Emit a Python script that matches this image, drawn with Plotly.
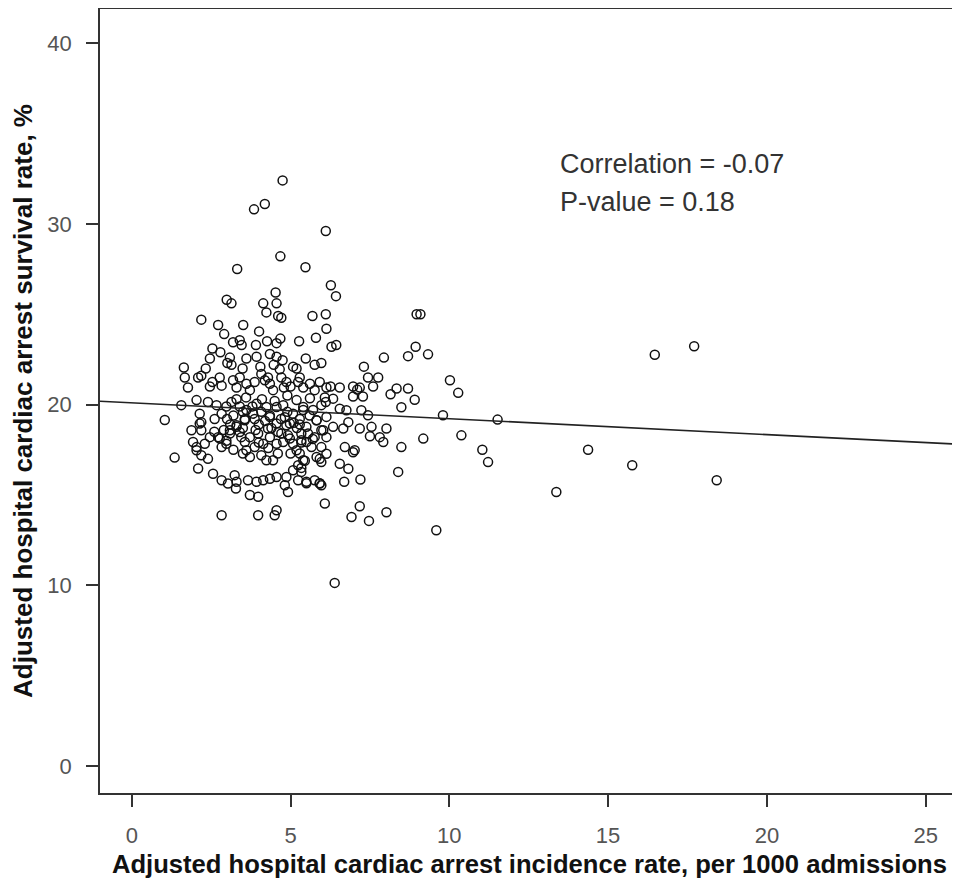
import plotly.graph_objects as go

# Hospital-level points (incidence per 1000 admissions, survival %)
incidence_rate = [
    4.75, 3.85, 4.19, 6.11, 4.68, 3.32, 5.47, 6.27, 4.53, 6.43, 2.99, 3.14, 4.14, 4.56, 4.24, 4.61, 4.71, 5.69, 6.11, 2.19,
    2.72, 3.51, 2.91, 4.01, 6.13, 4.68, 4.56, 5.27, 5.80, 4.26, 3.19, 3.40, 3.46, 3.91, 2.54, 2.46, 2.79, 3.09, 3.01, 3.14,
    3.61, 3.49, 3.93, 4.05, 4.35, 4.56, 4.75, 4.47, 4.66, 5.08, 5.19, 5.48, 5.76, 5.97, 1.64, 1.67, 1.77, 2.09, 2.19, 2.33,
    2.54, 2.46, 2.77, 2.83, 3.19, 3.30, 3.40, 3.61, 3.72, 3.87, 4.08, 4.19, 4.35, 4.45, 4.29, 4.71, 4.87, 4.79, 5.24, 5.40,
    5.29, 5.61, 5.76, 5.92, 6.13, 6.08, 1.04, 1.56, 2.04, 2.40, 2.67, 2.98, 3.14, 2.83, 2.61, 2.14, 2.19, 1.88, 3.40, 3.61,
    3.56, 3.30, 3.09, 3.93, 4.08, 3.87, 4.24, 4.35, 4.56, 4.29, 4.77, 4.82, 4.98, 5.19, 5.40, 5.29, 5.61, 5.71, 5.82, 5.50,
    5.97, 6.13, 5.97, 6.13, 1.93, 2.04, 2.30, 2.46, 2.72, 2.83, 2.98, 3.40, 3.56, 3.72, 3.98, 4.14, 4.35, 4.61, 4.77, 4.92,
    5.08, 5.34, 5.50, 5.76, 5.97, 2.19, 2.14, 2.04, 2.19, 2.40, 1.35, 2.09, 2.56, 2.83, 3.03, 3.30, 3.24, 3.28, 3.66, 3.93,
    4.14, 4.35, 4.56, 3.72, 3.98, 4.87, 5.08, 5.24, 5.34, 4.82, 4.92, 5.50, 5.24, 5.76, 5.92, 4.56, 4.50, 3.98, 2.83, 6.08,
    2.77, 2.98, 3.09, 3.30, 3.45, 3.61, 3.72, 3.87, 4.08, 4.24, 4.45, 4.56, 4.71, 4.87, 4.98, 5.19, 5.34, 5.40, 5.55, 5.66,
    5.82, 5.97, 6.13, 3.56, 3.82, 4.35, 4.56, 5.08, 5.40, 5.82, 6.03, 6.29, 6.44, 8.97, 9.09, 7.94, 8.70, 8.94, 9.33, 7.31,
    7.44, 7.76, 7.60, 6.26, 6.55, 6.97, 7.10, 7.18, 7.28, 6.97, 8.15, 8.34, 8.70, 8.91, 10.02, 10.28, 8.49, 6.11, 6.34, 6.55,
    6.76, 7.23, 7.44, 9.80, 11.52, 6.34, 6.66, 6.82, 7.18, 7.55, 8.02, 7.50, 7.81, 7.92, 8.49, 9.18, 10.38, 11.04, 11.22, 14.37,
    15.76, 13.37, 9.59, 6.39, 6.71, 6.97, 7.02, 6.55, 6.82, 6.69, 7.20, 8.39, 5.92, 5.50, 5.92, 5.97, 6.92, 7.18, 7.47, 8.02,
    5.29, 5.34, 5.29, 5.45, 5.34, 16.47, 17.71, 18.42,
    3.20, 3.50, 3.80, 4.00, 4.20, 4.40, 4.70, 4.90, 5.10, 3.00, 3.30, 3.60, 4.10, 4.50, 4.90, 5.00, 3.10, 3.50, 3.90, 4.30,
    4.60, 5.00, 2.60, 2.90, 3.20, 3.50, 4.00, 5.20, 5.60, 5.70,
]
survival_rate = [
    32.4, 30.8, 31.1, 29.6, 28.2, 27.5, 27.6, 26.6, 26.2, 26.0, 25.8, 25.6, 25.6, 25.6, 25.1, 24.9, 24.8, 24.9, 25.0, 24.7,
    24.4, 24.4, 23.9, 24.05, 24.2, 23.65, 23.4, 23.5, 23.7, 23.5, 23.45, 23.56, 23.3, 23.3, 23.1, 22.55, 22.9, 22.6, 22.3, 22.2,
    22.55, 22.0, 22.65, 22.1, 22.8, 22.65, 22.45, 22.2, 21.95, 22.1, 22.0, 22.55, 22.2, 22.3, 22.05, 21.5, 20.95, 21.5, 21.6, 22.0,
    21.25, 21.0, 21.5, 21.05, 21.35, 20.95, 21.5, 21.15, 20.8, 21.25, 21.7, 21.35, 21.15, 20.8, 21.5, 21.5, 21.25, 20.95, 21.25, 20.95,
    21.5, 21.15, 20.8, 21.25, 20.95, 20.4, 19.15, 19.97, 20.25, 20.15, 19.97, 19.9, 20.15, 19.5, 19.2, 19.5, 19.03, 18.58, 19.9, 19.7,
    19.2, 18.86, 18.58, 20.05, 19.6, 19.2, 19.87, 19.4, 18.95, 18.68, 19.97, 19.3, 18.95, 20.25, 19.87, 19.2, 20.35, 19.7, 19.14, 18.77,
    19.97, 19.32, 18.58, 18.2, 17.93, 17.65, 17.84, 18.2, 18.2, 17.65, 18.0, 18.48, 17.93, 18.2, 18.4, 17.84, 18.2, 18.48, 17.93, 18.3,
    17.84, 18.4, 17.93, 18.2, 17.65, 18.58, 18.95, 17.48, 17.2, 17.0, 17.07, 16.47, 16.18, 15.82, 15.64, 15.73, 16.1, 15.36, 15.82, 15.73,
    15.82, 15.9, 16.0, 15.0, 14.9, 16.0, 16.37, 16.65, 16.28, 15.54, 15.17, 15.73, 15.82, 15.82, 15.64, 14.16, 13.88, 13.88, 13.88, 14.53,
    18.12, 17.84, 18.4, 18.77, 18.2, 17.48, 17.1, 17.65, 17.2, 16.92, 16.92, 17.84, 18.4, 18.86, 18.12, 17.48, 18.03, 16.92, 18.4, 17.65,
    17.1, 16.82, 17.28, 19.14, 19.5, 19.32, 19.87, 19.5, 19.7, 19.14, 18.58, 23.2, 23.3, 25.0, 25.0, 22.6, 22.68, 23.2, 22.78, 22.1,
    21.5, 21.5, 21.0, 21.0, 20.95, 21.0, 20.83, 20.94, 20.45, 20.45, 20.57, 20.89, 20.89, 20.27, 21.35, 20.65, 19.85, 20.14, 20.33, 19.77,
    19.69, 19.69, 19.41, 19.41, 19.17, 18.77, 18.68, 19.03, 18.68, 18.77, 18.68, 18.25, 18.2, 17.93, 17.65, 18.12, 18.3, 17.5, 16.82, 17.5,
    16.65, 15.17, 13.05, 10.14, 17.65, 17.37, 17.48, 16.73, 16.45, 15.73, 15.86, 16.28, 17.0, 15.65, 15.65, 15.54, 13.78, 14.38, 13.57, 14.05,
    18.9, 17.9, 17.3, 16.9, 16.5, 22.76, 23.23, 15.82,
    19.4, 19.6, 19.9, 18.9, 19.1, 18.7, 19.2, 19.6, 19.0, 19.2, 20.3, 20.4, 20.3, 20.2, 20.5, 21.0, 18.9, 18.7, 18.6, 17.6,
    17.3, 17.3, 18.5, 18.6, 17.5, 17.3, 17.9, 18.7, 19.4, 18.1,
]

# Fitted line
fit_intercept = 20.1
fit_slope = -0.088

x_ticks = [0, 5, 10, 15, 20, 25]
y_ticks = [0, 10, 20, 30, 40]
x_range = [-1.0, 26.05]
y_range = [-1.48, 41.88]

corr_text = "Correlation = -0.07"
pval_text = "P-value = 0.18"

FONT = "Liberation Sans, Arial, sans-serif"

fig = go.Figure()
fig.add_trace(go.Scatter(
    x=incidence_rate, y=survival_rate, mode="markers",
    marker=dict(symbol="circle-open", size=9, color="#111111", line=dict(width=1.5, color="#111111")),
    hoverinfo="x+y", showlegend=False,
))
line_x = [x_range[0], x_range[1]]
line_y = [fit_intercept + fit_slope * v for v in line_x]
fig.add_trace(go.Scatter(
    x=line_x, y=line_y, mode="lines",
    line=dict(color="#222222", width=1.6), showlegend=False, hoverinfo="skip",
))

fig.add_annotation(x=13.42, y=33.3, xref="x", yref="y", text=corr_text, showarrow=False,
                   xanchor="left", yanchor="middle",
                   font=dict(family=FONT, size=27, color="#333333"))
fig.add_annotation(x=13.42, y=31.2, xref="x", yref="y", text=pval_text, showarrow=False,
                   xanchor="left", yanchor="middle",
                   font=dict(family=FONT, size=27, color="#333333"))

axis_common = dict(
    showline=True, linecolor="#333333", linewidth=1.5, mirror=True,
    ticks="outside", ticklen=12, tickwidth=1.5, tickcolor="#333333",
    showgrid=False, zeroline=False,
    tickfont=dict(family=FONT, size=22, color="#555555"),
)

# The page body has an 8px margin, so the figure is sized and offset to compensate
fig.update_layout(
    width=952, height=880,
    margin=dict(l=92, r=1, t=1, b=95, autoexpand=False),
    paper_bgcolor="white", plot_bgcolor="white",
    xaxis=dict(range=x_range, tickvals=x_ticks, ticklabelstandoff=10,
               title=dict(text="<b>Adjusted hospital cardiac arrest incidence rate, per 1000 admissions</b>",
                          font=dict(family=FONT, size=25.6, color="#111111"),
                          standoff=8),
               **axis_common),
    yaxis=dict(range=y_range, tickvals=y_ticks, ticklabelstandoff=10,
               title=dict(text="<b>Adjusted hospital cardiac arrest survival rate, %</b>",
                          font=dict(family=FONT, size=26, color="#111111"),
                          standoff=12),
               **axis_common),
)

fig.write_html("out.html")
